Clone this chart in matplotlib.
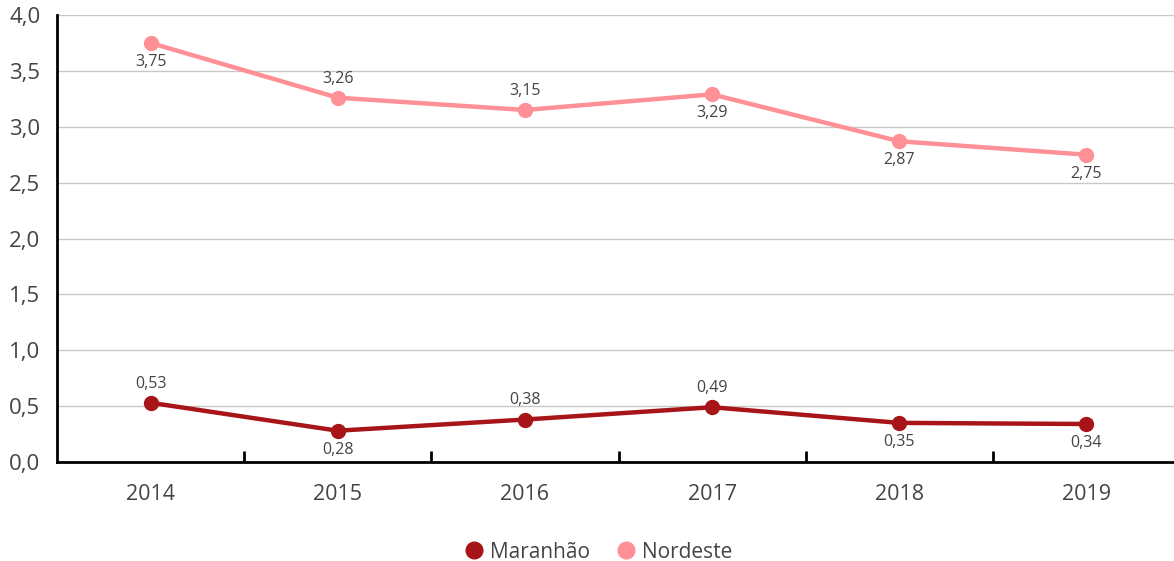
import matplotlib
matplotlib.use("Agg")
import matplotlib.pyplot as plt
from matplotlib.lines import Line2D

years = ["2014", "2015", "2016", "2017", "2018", "2019"]
maranhao = [0.53, 0.28, 0.38, 0.49, 0.35, 0.34]
nordeste = [3.75, 3.26, 3.15, 3.29, 2.87, 2.75]
maranhao_pos = ["above", "below", "above", "above", "below", "below"]
nordeste_pos = ["below", "above", "above", "below", "below", "below"]
yticks = [0.0, 0.5, 1.0, 1.5, 2.0, 2.5, 3.0, 3.5, 4.0]

plt.rcParams['font.family'] = ['Open Sans', 'DejaVu Sans']
c_mar = "#A81518"
c_nor = "#FF9096"
txt = "#444444"

fig = plt.figure(figsize=(11.74, 5.61), dpi=100)
W, H = 1174, 561
ax = fig.add_axes([57 / W, (H - 462) / H, 1123 / W, 447 / H])
x = list(range(len(years)))

ax.plot(x, nordeste, color=c_nor, lw=3.2, marker="o", ms=10, zorder=3, solid_capstyle="round")
ax.plot(x, maranhao, color=c_mar, lw=3.2, marker="o", ms=10, zorder=3, solid_capstyle="round")

def fmt(v):
    return f"{v:.2f}".replace(".", ",")

for series, pos in ((maranhao, maranhao_pos), (nordeste, nordeste_pos)):
    for xi, v, p in zip(x, series, pos):
        off = 8 if p == "above" else -8
        ax.annotate(fmt(v), (xi, v), xytext=(0, off), textcoords="offset points",
                    ha="center", va="bottom" if p == "above" else "top",
                    fontsize=11.5, color=txt)

ax.set_xlim(-0.5, 5.5)
ax.set_ylim(0, 4.0)
ax.set_yticks(yticks)
ax.set_yticklabels([f"{t:.1f}".replace(".", ",") for t in yticks], fontsize=16, color=txt)
ax.yaxis.grid(True, color="#c8c8c8", lw=1)
ax.set_axisbelow(True)
ax.tick_params(axis="y", length=0, pad=12)

ax.set_xticks(x)
ax.set_xticklabels(years, fontsize=15.5, color=txt)
ax.tick_params(axis="x", length=0, pad=16)
ax.set_xticks([i + 0.5 for i in range(len(years) - 1)], minor=True)
ax.tick_params(axis="x", which="minor", direction="in", length=8, width=2, color="black")

for s in ("top", "right"):
    ax.spines[s].set_visible(False)
for s in ("left", "bottom"):
    ax.spines[s].set_color("black")
    ax.spines[s].set_linewidth(2)

handles = [Line2D([], [], color=c_mar, marker="o", ls="none", ms=12),
           Line2D([], [], color=c_nor, marker="o", ls="none", ms=12)]
fig.legend(handles, ["Maranhão", "Nordeste"], loc="center", bbox_to_anchor=(598 / W, 1 - 552 / H),
           ncol=2, frameon=False, fontsize=15, labelcolor=txt, handletextpad=0.3,
           columnspacing=1.2, handlelength=1.0)

fig.savefig("out.png", dpi=100)
